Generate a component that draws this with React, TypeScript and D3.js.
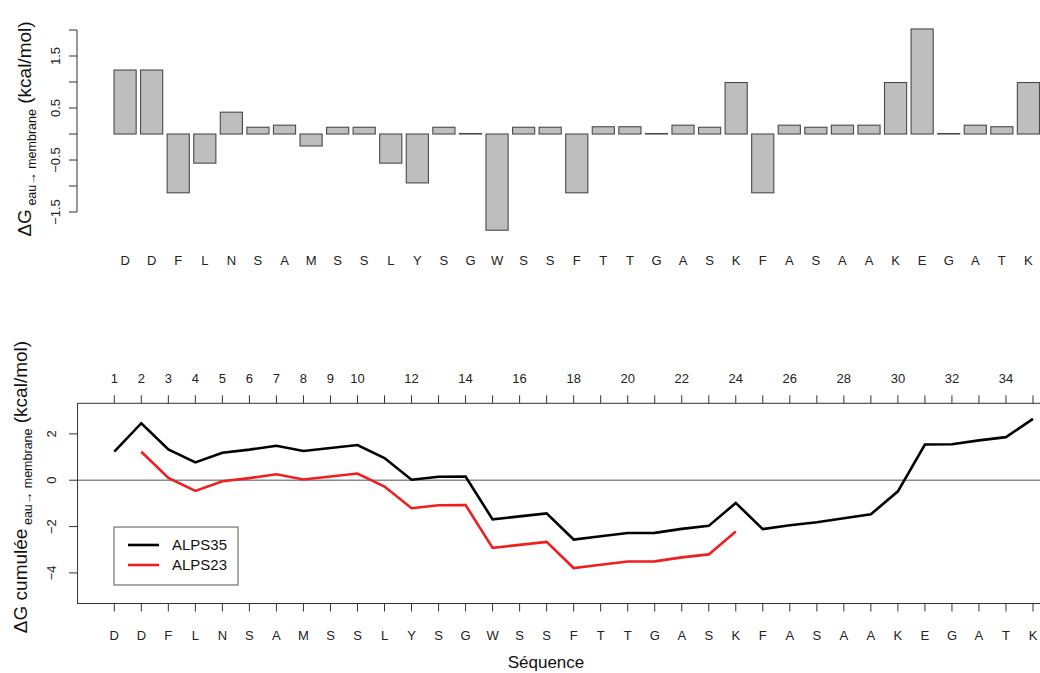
import React from "react";
import * as d3 from "d3";

// ---- Data ----
const sequence = ["D","D","F","L","N","S","A","M","S","S","L","Y","S","G","W","S","S","F","T","T","G","A","S","K","F","A","S","A","A","K","E","G","A","T","K"];
const deltaG = [1.23,1.23,-1.13,-0.56,0.42,0.13,0.17,-0.23,0.13,0.13,-0.56,-0.94,0.13,0.01,-1.85,0.13,0.13,-1.13,0.14,0.14,0.01,0.17,0.13,0.99,-1.13,0.17,0.13,0.17,0.17,0.99,2.02,0.01,0.17,0.14,0.99];
const alps35Positions = d3.range(1, 36);
const alps35 = [1.23,2.46,1.33,0.77,1.19,1.32,1.49,1.26,1.39,1.52,0.96,0.02,0.15,0.16,-1.69,-1.56,-1.43,-2.56,-2.42,-2.28,-2.27,-2.10,-1.97,-0.98,-2.11,-1.94,-1.81,-1.64,-1.47,-0.48,1.54,1.55,1.72,1.86,2.65];
const alps23Positions = d3.range(2, 25);
const alps23 = [1.23,0.10,-0.46,-0.04,0.09,0.26,0.03,0.16,0.29,-0.27,-1.21,-1.08,-1.07,-2.92,-2.79,-2.66,-3.79,-3.65,-3.51,-3.50,-3.33,-3.20,-2.21];
const topTickValues = [-1.5,-1,-0.5,0,0.5,1,1.5,2];
const topTickLabels = ["-1.5","","-0.5","","0.5","","1.5",""];
const bottomYTicks = [-4,-2,0,2];
const positionLabels = ["1","2","3","4","5","6","7","8","9","10","","12","","14","","16","","18","","20","","22","","24","","26","","28","","30","","32","","34",""];
const seriesNames = ["ALPS35","ALPS23"];
const seriesColors = ["#000000","#f01e1e"];

const FONT = "'Liberation Sans', Arial, Helvetica, sans-serif";
const AX = "#333";
const NB = "\u00a0";

export default function App() {
  // top bar chart scales (R barplot units)
  const xb = d3.scaleLinear().domain([-1.472, 43.672]).range([77, 1076.5]);
  const yb = d3.scaleLinear().domain([-2.005, 2.175]).range([238.3, 20.9]);
  // bottom line chart scales
  const xl = d3.scaleLinear().domain([1, 35]).range([114.3, 1033]);
  const yl = d3.scaleLinear().domain([-5.32, 3.32]).range([603.5, 403.3]);
  const boxL = xl(1 - 0.04 * 34);
  const boxR = xl(35 + 0.04 * 34);

  const line = d3.line<[number, number]>().x(d => xl(d[0])).y(d => yl(d[1]));
  const l35 = line(alps35Positions.map((p, i) => [p, alps35[i]] as [number, number])) || "";
  const l23 = line(alps23Positions.map((p, i) => [p, alps23[i]] as [number, number])) || "";

  return (
    <svg width={1040} height={673} style={{ position: "absolute", left: 0, top: 0, background: "#fff" }} fontFamily={FONT}>
      <rect x={0} y={0} width={1040} height={673} fill="#fff" />
      {/* ---------- Top bar chart ---------- */}
      {deltaG.map((v, i) => {
        const x0 = xb(0.2 + i * 1.2);
        const x1 = xb(1.2 + i * 1.2);
        const ya = yb(Math.max(0, v));
        const yz = yb(Math.min(0, v));
        return (
          <rect key={"b" + i} x={x0} y={ya} width={x1 - x0} height={Math.max(0.5, yz - ya)}
            fill="#bebebe" stroke="#4a4a4a" strokeWidth={1.1} />
        );
      })}
      {sequence.map((s, i) => (
        <text key={"tl" + i} x={xb(0.7 + i * 1.2)} y={265} fontSize={13} textAnchor="middle" fill="#222">{s}</text>
      ))}
      <line x1={77} x2={77} y1={yb(-1.5)} y2={yb(2)} stroke={AX} strokeWidth={1} />
      {topTickValues.map((t, i) => (
        <g key={"tt" + i}>
          <line x1={69} x2={77} y1={yb(t)} y2={yb(t)} stroke={AX} strokeWidth={1} />
          {topTickLabels[i] && (
            <text transform={`translate(60,${yb(t)}) rotate(-90)`} fontSize={13} textAnchor="middle" fill="#222">
              {topTickLabels[i].replace("-", "\u2212")}
            </text>
          )}
        </g>
      ))}
      <text transform={`translate(31,129) rotate(-90)`} fontSize={19} textAnchor="middle" fill="#111">
        <tspan>ΔG</tspan>
        <tspan fontSize={12.5} dy={5}>{NB + "eau→" + NB + "membrane"}</tspan>
        <tspan dy={-5}>{NB + "(kcal/mol)"}</tspan>
      </text>

      {/* ---------- Bottom line chart ---------- */}
      <line x1={boxL} x2={boxR} y1={yl(0)} y2={yl(0)} stroke="#8a8a8a" strokeWidth={1.6} />
      <path d={l35} fill="none" stroke={seriesColors[0]} strokeWidth={2.6} strokeLinejoin="miter" />
      <path d={l23} fill="none" stroke={seriesColors[1]} strokeWidth={2.6} strokeLinejoin="miter" />
      <rect x={boxL} y={yl(3.32)} width={boxR - boxL} height={yl(-5.32) - yl(3.32)} fill="none" stroke={AX} strokeWidth={1} />
      {/* top axis */}
      {alps35Positions.map((p, i) => (
        <g key={"ta" + i}>
          <line x1={xl(p)} x2={xl(p)} y1={yl(3.32)} y2={yl(3.32) - 8} stroke={AX} strokeWidth={1} />
          {positionLabels[i] && (
            <text x={xl(p)} y={383} fontSize={13} textAnchor="middle" fill="#222">{positionLabels[i]}</text>
          )}
        </g>
      ))}
      {/* bottom axis */}
      {alps35Positions.map((p, i) => (
        <g key={"ba" + i}>
          <line x1={xl(p)} x2={xl(p)} y1={yl(-5.32)} y2={yl(-5.32) + 8} stroke={AX} strokeWidth={1} />
          <text x={xl(p)} y={640} fontSize={13} textAnchor="middle" fill="#222">{sequence[i]}</text>
        </g>
      ))}
      {/* left axis */}
      {bottomYTicks.map((t, i) => (
        <g key={"ly" + i}>
          <line x1={69} x2={boxL} y1={yl(t)} y2={yl(t)} stroke={AX} strokeWidth={1} />
          <text transform={`translate(56,${yl(t)}) rotate(-90)`} fontSize={13} textAnchor="middle" fill="#222">
            {String(t).replace("-", "\u2212")}
          </text>
        </g>
      ))}
      <text transform={`translate(27,487) rotate(-90)`} fontSize={19} textAnchor="middle" fill="#111">
        <tspan>{"ΔG" + NB + "cumulée"}</tspan>
        <tspan fontSize={12.5} dy={5}>{NB + "eau→" + NB + "membrane"}</tspan>
        <tspan dy={-5}>{NB + "(kcal/mol)"}</tspan>
      </text>
      <text x={546} y={668} fontSize={17} textAnchor="middle" fill="#111">Séquence</text>

      {/* legend */}
      <rect x={114} y={527} width={124} height={58} fill="#fff" stroke="#555" strokeWidth={1} />
      {seriesNames.map((n, i) => (
        <g key={"lg" + i}>
          <line x1={128} x2={159} y1={545 + i * 20} y2={545 + i * 20} stroke={seriesColors[i]} strokeWidth={2.6} />
          <text x={172} y={550 + i * 20} fontSize={15} fill="#111">{n}</text>
        </g>
      ))}
    </svg>
  );
}
